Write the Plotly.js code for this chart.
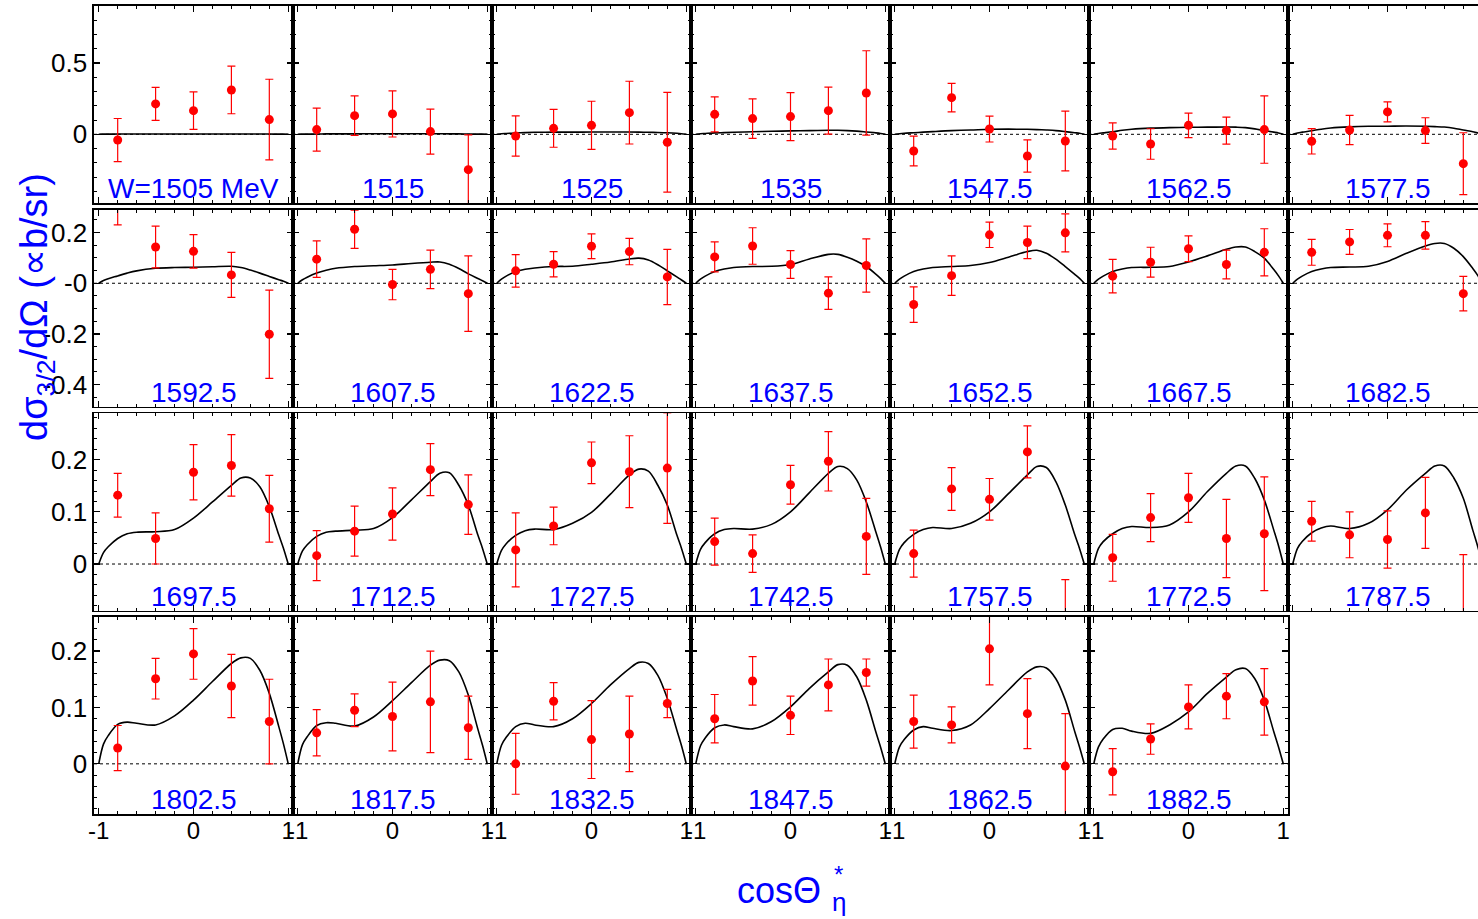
<!DOCTYPE html>
<html><head><meta charset="utf-8">
<script src="https://cdn.plot.ly/plotly-3.0.1.min.js"></script>
<style>html,body{margin:0;padding:0;background:#fff;overflow:hidden}</style>
</head><body><div id="chart" style="width:1478px;height:919px"></div>
<script>
// ---------------- data ----------------
const panelLabels = ['W=1505 MeV','1515','1525','1535','1547.5','1562.5','1577.5',
  '1592.5','1607.5','1622.5','1637.5','1652.5','1667.5','1682.5',
  '1697.5','1712.5','1727.5','1742.5','1757.5','1772.5','1787.5',
  '1802.5','1817.5','1832.5','1847.5','1862.5','1882.5'];
const xPoints = [-0.8, -0.4, 0, 0.4, 0.8];
const curveX = [-1, -0.95, -0.9, -0.8, -0.7, -0.6, -0.4, -0.2, 0, 0.2, 0.4, 0.5, 0.6, 0.7, 0.8, 0.9, 0.95, 1];

// measured points (y) and errors (e)
const y1505 = [-0.040, 0.213, 0.166, 0.311, 0.103];  const e1505 = [0.151, 0.116, 0.131, 0.167, 0.283];
const y1515 = [0.033, 0.131, 0.143, 0.019, -0.248];  const e1515 = [0.151, 0.138, 0.162, 0.158, 0.244];
const y1525 = [-0.012, 0.042, 0.063, 0.152, -0.056]; const e1525 = [0.141, 0.133, 0.169, 0.220, 0.350];
const y1535 = [0.140, 0.110, 0.124, 0.166, 0.290];   const e1535 = [0.123, 0.139, 0.168, 0.165, 0.296];
const y1547 = [-0.117, 0.257, 0.037, -0.152, -0.047];const e1547 = [0.104, 0.100, 0.091, 0.113, 0.209];
const y1562 = [-0.012, -0.068, 0.063, 0.026, 0.033]; const e1562 = [0.092, 0.107, 0.086, 0.095, 0.236];
const y1577 = [-0.049, 0.030, 0.157, 0.026, -0.206]; const e1577 = [0.089, 0.103, 0.070, 0.090, 0.217];
const y1592 = [0.320, 0.143, 0.126, 0.033, -0.201];  const e1592 = [0.090, 0.082, 0.066, 0.089, 0.174];
const y1607 = [0.095, 0.213, -0.005, 0.055, -0.041]; const e1607 = [0.072, 0.075, 0.060, 0.076, 0.149];
const y1622 = [0.049, 0.075, 0.146, 0.125, 0.025];   const e1622 = [0.064, 0.050, 0.049, 0.052, 0.109];
const y1637 = [0.104, 0.147, 0.074, -0.039, 0.070];  const e1637 = [0.059, 0.072, 0.055, 0.064, 0.105];
const y1652 = [-0.084, 0.030, 0.191, 0.161, 0.199];  const e1652 = [0.070, 0.078, 0.050, 0.064, 0.075];
const y1667 = [0.028, 0.083, 0.136, 0.074, 0.122];   const e1667 = [0.066, 0.059, 0.051, 0.057, 0.093];
const y1682 = [0.122, 0.163, 0.189, 0.189, -0.041];  const e1682 = [0.051, 0.049, 0.045, 0.054, 0.068];
const y1697 = [0.132, 0.049, 0.176, 0.189, 0.106];   const e1697 = [0.042, 0.049, 0.053, 0.059, 0.064];
const y1712 = [0.016, 0.063, 0.096, 0.181, 0.114];   const e1712 = [0.048, 0.048, 0.050, 0.050, 0.057];
const y1727 = [0.027, 0.073, 0.194, 0.177, 0.184];   const e1727 = [0.071, 0.036, 0.040, 0.069, 0.106];
const y1742 = [0.043, 0.020, 0.152, 0.197, 0.053];   const e1742 = [0.045, 0.036, 0.037, 0.057, 0.073];
const y1757 = [0.020, 0.144, 0.124, 0.215, -0.200];  const e1757 = [0.045, 0.041, 0.040, 0.050, 0.170];
const y1772 = [0.012, 0.089, 0.127, 0.049, 0.058];   const e1772 = [0.045, 0.046, 0.047, 0.075, 0.109];
const y1787 = [0.082, 0.056, 0.047, 0.098, -0.200];  const e1787 = [0.038, 0.044, 0.055, 0.068, 0.218];
const y1802 = [0.028, 0.151, 0.195, 0.138, 0.075];   const e1802 = [0.040, 0.036, 0.045, 0.056, 0.075];
const y1817 = [0.055, 0.095, 0.084, 0.110, 0.064];   const e1817 = [0.041, 0.029, 0.061, 0.090, 0.056];
const y1832 = [0.000, 0.111, 0.043, 0.053, 0.107];   const e1832 = [0.054, 0.033, 0.069, 0.067, 0.025];
const y1847 = [0.080, 0.147, 0.086, 0.140, 0.162];   const e1847 = [0.043, 0.043, 0.034, 0.046, 0.024];
const y1862 = [0.075, 0.069, 0.204, 0.089, -0.004];  const e1862 = [0.047, 0.032, 0.064, 0.062, 0.093];
const y1882 = [-0.014, 0.044, 0.101, 0.120, 0.110];  const e1882 = [0.041, 0.027, 0.039, 0.040, 0.059];

// model curves (c), sampled at curveX
const c1505 = [0,0.001,0.001,0.002,0.002,0.002,0.002,0.002,0.002,0.002,0.002,0.002,0.002,0.002,0.002,0.001,0.001,0];
const c1515 = [0,0.001,0.001,0.002,0.003,0.003,0.003,0.004,0.004,0.004,0.004,0.004,0.003,0.003,0.002,0.001,0.001,0];
const c1525 = [0,0.004,0.006,0.009,0.012,0.014,0.015,0.015,0.016,0.016,0.016,0.015,0.014,0.013,0.011,0.007,0.004,0];
const c1535 = [0,0.004,0.006,0.010,0.012,0.014,0.018,0.021,0.024,0.026,0.028,0.028,0.026,0.022,0.016,0.010,0.006,0];
const c1547 = [0,0.004,0.007,0.011,0.015,0.019,0.026,0.030,0.035,0.036,0.035,0.033,0.030,0.026,0.019,0.011,0.007,0];
const c1562 = [0,0.006,0.010,0.018,0.028,0.035,0.043,0.047,0.049,0.050,0.051,0.050,0.047,0.038,0.026,0.015,0.009,0];
const c1577 = [0,0.009,0.015,0.025,0.036,0.044,0.052,0.056,0.057,0.058,0.056,0.054,0.051,0.043,0.030,0.018,0.010,0];
const c1592 = [0,0.011,0.018,0.029,0.040,0.049,0.059,0.062,0.063,0.065,0.067,0.062,0.052,0.040,0.027,0.014,0.008,0];
const c1607 = [0,0.014,0.024,0.040,0.051,0.059,0.066,0.069,0.072,0.078,0.083,0.084,0.075,0.058,0.037,0.019,0.010,0];
const c1622 = [0,0.016,0.028,0.046,0.055,0.060,0.066,0.067,0.075,0.084,0.096,0.099,0.092,0.073,0.049,0.025,0.013,0];
const c1637 = [0,0.016,0.028,0.046,0.056,0.062,0.066,0.067,0.074,0.096,0.114,0.114,0.103,0.087,0.066,0.036,0.019,0];
const c1652 = [0,0.016,0.028,0.046,0.056,0.062,0.066,0.070,0.082,0.103,0.125,0.130,0.118,0.095,0.066,0.035,0.019,0];
const c1667 = [0,0.016,0.028,0.046,0.056,0.062,0.063,0.066,0.084,0.108,0.134,0.143,0.143,0.125,0.099,0.054,0.029,0];
const c1682 = [0,0.016,0.028,0.046,0.056,0.062,0.064,0.067,0.086,0.118,0.147,0.157,0.157,0.138,0.105,0.058,0.032,0];
const c1697 = [0,0.022,0.033,0.049,0.058,0.061,0.062,0.066,0.088,0.119,0.151,0.165,0.165,0.148,0.110,0.056,0.030,0];
const c1712 = [0,0.025,0.037,0.053,0.061,0.063,0.065,0.068,0.089,0.123,0.158,0.174,0.175,0.151,0.113,0.056,0.030,0];
const c1727 = [0,0.026,0.039,0.055,0.064,0.067,0.066,0.078,0.099,0.134,0.171,0.182,0.178,0.151,0.113,0.056,0.030,0];
const c1742 = [0,0.028,0.041,0.058,0.066,0.068,0.067,0.076,0.100,0.137,0.174,0.187,0.183,0.161,0.119,0.062,0.033,0];
const c1757 = [0,0.028,0.041,0.057,0.066,0.070,0.068,0.078,0.100,0.135,0.171,0.187,0.185,0.158,0.113,0.056,0.030,0];
const c1772 = [0,0.030,0.043,0.058,0.068,0.072,0.070,0.075,0.100,0.139,0.174,0.188,0.188,0.164,0.123,0.065,0.035,0];
const c1787 = [0,0.030,0.043,0.060,0.069,0.073,0.068,0.078,0.104,0.142,0.174,0.188,0.188,0.165,0.126,0.065,0.035,0];
const c1802 = [0,0.035,0.050,0.070,0.074,0.072,0.069,0.085,0.113,0.146,0.178,0.188,0.187,0.166,0.125,0.066,0.035,0];
const c1817 = [0,0.034,0.048,0.068,0.073,0.072,0.067,0.083,0.112,0.144,0.175,0.184,0.183,0.163,0.122,0.062,0.033,0];
const c1832 = [0,0.033,0.047,0.066,0.072,0.069,0.066,0.080,0.107,0.140,0.169,0.180,0.178,0.157,0.116,0.060,0.032,0];
const c1847 = [0,0.032,0.046,0.064,0.069,0.066,0.062,0.075,0.101,0.134,0.163,0.176,0.175,0.154,0.113,0.057,0.030,0];
const c1862 = [0,0.030,0.043,0.060,0.066,0.063,0.059,0.069,0.098,0.131,0.163,0.172,0.170,0.151,0.113,0.057,0.030,0];
const c1882 = [0,0.030,0.044,0.061,0.063,0.058,0.054,0.069,0.092,0.125,0.154,0.167,0.169,0.151,0.113,0.057,0.030,0];

const pointSeries = [y1505,y1515,y1525,y1535,y1547,y1562,y1577,y1592,y1607,y1622,y1637,y1652,y1667,y1682,
  y1697,y1712,y1727,y1742,y1757,y1772,y1787,y1802,y1817,y1832,y1847,y1862,y1882];
const errorSeries = [e1505,e1515,e1525,e1535,e1547,e1562,e1577,e1592,e1607,e1622,e1637,e1652,e1667,e1682,
  e1697,e1712,e1727,e1742,e1757,e1772,e1787,e1802,e1817,e1832,e1847,e1862,e1882];
const curveSeries = [c1505,c1515,c1525,c1535,c1547,c1562,c1577,c1592,c1607,c1622,c1637,c1652,c1667,c1682,
  c1697,c1712,c1727,c1742,c1757,c1772,c1787,c1802,c1817,c1832,c1847,c1862,c1882];

// axis ticks per row
const rowYRange = [[-0.484, 0.90], [-0.487, 0.289], [-0.0895, 0.289], [-0.089, 0.261]];
const rowTickVals = [[0, 0.5], [-0.4, -0.2, 0, 0.2], [0, 0.1, 0.2], [0, 0.1, 0.2]];
const rowTickText = [['0', '0.5'], ['-0.4', '-0.2', '-0', '0.2'], ['0', '0.1', '0.2'], ['0', '0.1', '0.2']];
const rowMinorStep = [0.1, 0.05, 0.02, 0.02];
const xTickVals = [-1, 0, 1];
const xTickText = ['-1', '0', '1'];

// ---------------- layout ----------------
const W = 1478, H = 919;
const colLeft0 = 94, colW = 199;
const rowTop = [6, 210, 413.3, 616.7];
const rowBot = [203.3, 406.7, 610.7, 814];
const pxPerUnit = colW / 2.1;
const FONT = 'Liberation Sans, Arial, Helvetica, sans-serif';

const traces = [];
const layout = {
  width: W, height: H, margin: {l: 0, r: 0, t: 0, b: 0},
  paper_bgcolor: 'white', plot_bgcolor: 'white', showlegend: false,
  font: {family: FONT, color: 'black'},
  annotations: [], shapes: []
};

for (let i = 0; i < panelLabels.length; i++) {
  const r = Math.floor(i / 7), c = i % 7;
  const id = i === 0 ? '' : String(i + 1);
  const left = colLeft0 + colW * c;
  const right = Math.min(left + colW, W);
  const xr = [-1.05, -1.05 + (right - left) / pxPerUnit];
  const tickStyle = {ticks: 'inside', ticklen: 6, tickwidth: 1.2, tickcolor: 'black'};
  layout['xaxis' + id] = Object.assign({
    domain: [left / W, right / W], range: xr, anchor: 'y' + id,
    showline: true, linecolor: 'black', linewidth: 1.6, mirror: 'ticks',
    tickmode: 'array', tickvals: xTickVals, ticktext: xTickText,
    showticklabels: r === 3, tickfont: {family: FONT, size: 24, color: 'black'},
    ticklabelstandoff: -5,
    minor: {tickmode: 'linear', tick0: 0, dtick: 0.2, ticks: 'inside', ticklen: 3, tickwidth: 1, tickcolor: 'black'},
    showgrid: false, zeroline: false, fixedrange: true
  }, tickStyle);
  layout['yaxis' + id] = Object.assign({
    domain: [1 - rowBot[r] / H, 1 - rowTop[r] / H], range: rowYRange[r], anchor: 'x' + id,
    showline: true, linecolor: 'black', linewidth: 1.6, mirror: c === 6 ? false : 'ticks',
    tickmode: 'array', tickvals: rowTickVals[r], ticktext: rowTickText[r],
    showticklabels: c === 0, tickfont: {family: FONT, size: 26, color: 'black'},
    ticklabelstandoff: 0,
    minor: {tickmode: 'linear', tick0: 0, dtick: rowMinorStep[r], ticks: 'inside', ticklen: 3, tickwidth: 1, tickcolor: 'black'},
    showgrid: false, zeroline: false, fixedrange: true
  }, tickStyle);

  // dotted zero line
  layout.shapes.push({type: 'line', xref: 'x' + id + ' domain', x0: 0, x1: 1, yref: 'y' + id, y0: 0, y1: 0,
    line: {color: 'black', width: 1, dash: 'dot'}, layer: 'below'});

  // model curve
  traces.push({x: curveX, y: curveSeries[i], xaxis: 'x' + id, yaxis: 'y' + id,
    type: 'scatter', mode: 'lines', line: {color: 'black', width: 1.6, shape: 'spline', smoothing: 0.9},
    hoverinfo: 'skip'});
  // data points
  traces.push({x: xPoints, y: pointSeries[i], xaxis: 'x' + id, yaxis: 'y' + id,
    type: 'scatter', mode: 'markers', marker: {color: '#ff0000', size: 9},
    error_y: {type: 'data', array: errorSeries[i], visible: true, color: '#ff0000', thickness: 1.2, width: 4}});

  // panel label
  layout.annotations.push({xref: 'x' + id, x: 0, yref: 'y' + id + ' domain', y: 0,
    xanchor: 'center', yanchor: 'bottom', yshift: -3, showarrow: false,
    text: panelLabels[i], font: {family: FONT, size: 28, color: '#0000ff'}});
}

// axis titles
layout.annotations.push({xref: 'paper', yref: 'paper', x: 37 / W, y: 1 - 307 / H,
  xanchor: 'center', yanchor: 'middle', textangle: -90, showarrow: false,
  text: 'dσ<sub>3/2</sub>/dΩ (∝b/sr)', font: {family: FONT, size: 38, color: '#0000ff'}});
layout.annotations.push({xref: 'paper', yref: 'paper', x: 823 / W, y: 1 - 890 / H,
  xanchor: 'right', yanchor: 'middle', showarrow: false,
  text: 'cosΘ', font: {family: FONT, size: 36, color: '#0000ff'}});
layout.annotations.push({xref: 'paper', yref: 'paper', x: 832 / W, y: 1 - 874 / H,
  xanchor: 'left', yanchor: 'middle', showarrow: false,
  text: '*', font: {family: FONT, size: 24, color: '#0000ff'}});
layout.annotations.push({xref: 'paper', yref: 'paper', x: 830 / W, y: 1 - 902 / H,
  xanchor: 'left', yanchor: 'middle', showarrow: false,
  text: 'η', font: {family: FONT, size: 26, color: '#0000ff'}});

Plotly.newPlot('chart', traces, layout, {staticPlot: true, displayModeBar: false});
</script>
</body></html>
